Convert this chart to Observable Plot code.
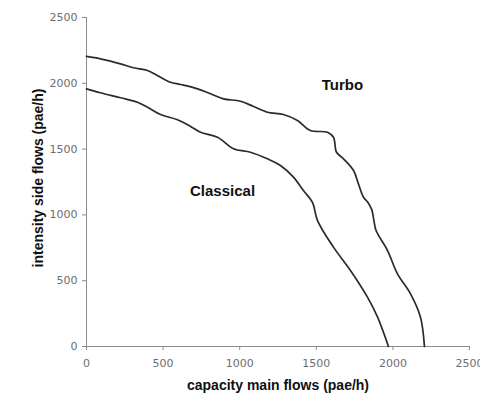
<!DOCTYPE html>
<html>
<head>
<meta charset="utf-8">
<script src="https://cdn.jsdelivr.net/npm/d3@7"></script>
<script src="https://cdn.jsdelivr.net/npm/@observablehq/plot@0.6"></script>
<style>
  body { margin: 0; background: #fff; }
  #chart svg { display: block; }
</style>
</head>
<body>
<div id="chart"></div>
<script>
// Turbo roundabout capacity curve (capacity main flows vs intensity side flows, pae/h)
const turboX = [0, 91, 222, 307, 398, 463, 548, 614, 725, 809, 894, 1005, 1090, 1181, 1286, 1377, 1462, 1573, 1612, 1632, 1678, 1743, 1775, 1808, 1834, 1862, 1876, 1890, 1965, 2030, 2115, 2180, 2206];
const turboY = [2204, 2186, 2148, 2118, 2097, 2059, 2008, 1991, 1958, 1920, 1882, 1864, 1824, 1780, 1763, 1717, 1641, 1628, 1590, 1476, 1426, 1337, 1236, 1134, 1100, 1040, 957, 881, 729, 552, 400, 223, 0];
// Classical roundabout capacity curve
const classicalX = [0, 91, 222, 333, 398, 483, 594, 679, 744, 855, 960, 1070, 1181, 1266, 1351, 1416, 1475, 1508, 1612, 1723, 1834, 1900, 1971];
const classicalY = [1958, 1928, 1890, 1856, 1818, 1763, 1723, 1672, 1628, 1590, 1502, 1476, 1426, 1375, 1287, 1185, 1096, 957, 755, 578, 375, 223, 0];

const seriesNames = ["Turbo", "Classical"];
const labelX = [1671, 888];
const labelY = [1983, 1178];

const xTicks = [0, 500, 1000, 1500, 2000, 2500];
const yTicks = [0, 500, 1000, 1500, 2000, 2500];
const xTitle = "capacity main flows (pae/h)";
const yTitle = "intensity side flows (pae/h)";

const turbo = turboX.map((x, i) => ({x, y: turboY[i]}));
const classical = classicalX.map((x, i) => ({x, y: classicalY[i]}));
const labels = seriesNames.map((name, i) => ({name, x: labelX[i], y: labelY[i]}));

const axisGray = "#8c8c8c";
const tickText = "#6e6e6e";
const lineColor = "#2b2b2b";

const plot = Plot.plot({
  width: 480,
  height: 394,
  marginLeft: 86,
  marginRight: 11,
  marginTop: 17,
  marginBottom: 48,
  style: {background: "#fff"},
  x: {domain: [0, 2500], ticks: xTicks},
  y: {domain: [0, 2500], ticks: yTicks},
  marks: [
    Plot.ruleX([0], {stroke: axisGray, strokeWidth: 1}),
    Plot.ruleY([0], {stroke: axisGray, strokeWidth: 1}),
    Plot.axisX(xTicks, {
      tickSize: 4, tickPadding: 9, stroke: axisGray, color: tickText,
      fontSize: 11, fontFamily: "DejaVu Sans", label: null, tickFormat: d => String(d)
    }),
    Plot.axisY(yTicks, {
      tickSize: 4, tickPadding: 5, stroke: axisGray, color: tickText,
      fontSize: 11, fontFamily: "DejaVu Sans", label: null, tickFormat: d => String(d)
    }),
    Plot.line(turbo, {x: "x", y: "y", stroke: lineColor, strokeWidth: 1.7, curve: "catmull-rom"}),
    Plot.line(classical, {x: "x", y: "y", stroke: lineColor, strokeWidth: 1.7, curve: "catmull-rom"}),
    Plot.text(labels, {
      x: "x", y: "y", text: "name", fontWeight: "bold", fontSize: 15,
      fontFamily: "Liberation Sans", fill: "#111", textAnchor: "middle", lineAnchor: "middle"
    }),
    Plot.text([xTitle], {
      frameAnchor: "bottom", dy: 43, text: d => d, fontWeight: "bold", fontSize: 14,
      fontFamily: "Liberation Sans", fill: "#111", textAnchor: "middle", lineAnchor: "bottom"
    }),
    Plot.text([yTitle], {
      frameAnchor: "left", dx: -44, dy: -4, rotate: -90, text: d => d, fontWeight: "bold", fontSize: 14,
      fontFamily: "Liberation Sans", fill: "#111", textAnchor: "middle", lineAnchor: "bottom"
    })
  ]
});
document.getElementById("chart").appendChild(plot);
</script>
</body>
</html>
